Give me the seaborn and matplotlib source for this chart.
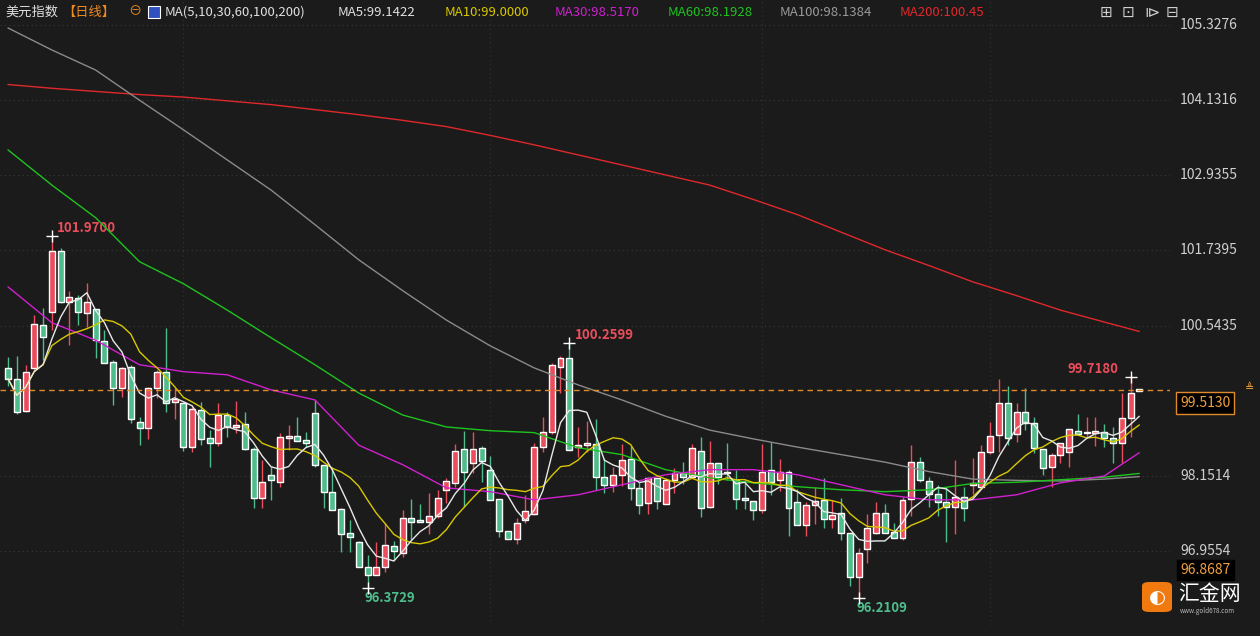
import numpy as np
import pandas as pd
import seaborn as sns
import matplotlib.pyplot as plt
from matplotlib.patches import FancyBboxPatch

# daily OHLC (red = up, green = down)
opens = [99.87, 99.70, 99.18, 99.87, 100.55, 100.76, 101.73, 100.92, 100.98, 100.75,
         100.80, 100.29, 99.97, 99.55, 99.89, 99.01, 98.92, 99.55, 99.81, 99.33,
         99.31, 98.61, 99.20, 98.76, 98.68, 99.12, 98.93, 98.98, 98.58, 97.80,
         98.17, 98.06, 98.76, 98.79, 98.72, 99.15, 98.32, 97.90, 97.63, 97.24,
         97.10, 96.70, 96.57, 96.70, 97.03, 96.93, 97.48, 97.45, 97.42, 97.51,
         97.93, 98.04, 98.58, 98.36, 98.60, 98.25, 97.79, 97.28, 97.15, 97.45,
         97.55, 98.61, 98.85, 99.89, 100.02, 98.61, 98.65, 98.66, 98.13, 98.00,
         98.17, 98.42, 97.96, 97.72, 98.12, 97.71, 98.09, 98.20, 98.14, 98.55,
         97.66, 98.36, 98.21, 98.09, 97.80, 97.75, 97.61, 98.25, 98.09, 98.22,
         97.74, 97.37, 97.69, 97.77, 97.47, 97.56, 97.24, 96.54, 96.99, 97.24,
         97.56, 97.26, 97.16, 97.79, 98.37, 98.07, 97.86, 97.74, 97.66, 97.82,
         98.01, 97.98, 98.53, 98.80, 99.31, 98.82, 99.17, 99.00, 98.58, 98.30,
         98.49, 98.53, 98.87, 98.83, 98.83, 98.85, 98.76, 98.68, 99.08, 99.52]
closes = [99.70, 99.17, 99.81, 100.57, 100.36, 101.73, 100.92, 101.00, 100.76, 100.92,
          100.32, 99.95, 99.55, 99.87, 99.06, 98.92, 99.55, 99.81, 99.31, 99.38,
          98.61, 99.22, 98.74, 98.68, 99.12, 98.93, 98.96, 98.58, 97.80, 98.06,
          98.08, 98.77, 98.79, 98.70, 98.68, 98.32, 97.90, 97.61, 97.22, 97.18,
          96.70, 96.57, 96.70, 97.05, 96.96, 97.48, 97.42, 97.42, 97.51, 97.80,
          98.07, 98.55, 98.22, 98.58, 98.39, 97.77, 97.28, 97.15, 97.40, 97.59,
          98.61, 98.85, 99.92, 100.02, 98.56, 98.64, 98.68, 98.13, 98.00, 98.17,
          98.41, 97.96, 97.69, 98.12, 97.75, 98.09, 98.20, 98.14, 98.60, 97.64,
          98.36, 98.14, 98.19, 97.79, 97.77, 97.61, 98.22, 98.06, 98.22, 97.64,
          97.37, 97.69, 97.75, 97.47, 97.53, 97.24, 96.54, 96.92, 97.32, 97.56,
          97.24, 97.16, 97.77, 98.37, 98.09, 97.86, 97.74, 97.66, 97.82, 97.64,
          98.04, 98.53, 98.79, 99.31, 98.76, 99.17, 99.00, 98.60, 98.28, 98.49,
          98.68, 98.90, 98.82, 98.85, 98.87, 98.76, 98.68, 99.08, 99.47, 99.51]
highs = [100.05, 100.06, 99.92, 100.71, 100.82, 101.97, 101.78, 101.10, 101.03, 101.22,
         100.80, 100.48, 100.00, 99.89, 99.92, 99.09, 99.57, 99.84, 100.51, 99.55,
         99.33, 99.25, 99.33, 98.88, 99.31, 99.17, 99.34, 99.17, 98.61, 98.40,
         98.30, 98.84, 98.96, 99.09, 98.85, 99.36, 98.33, 98.30, 97.64, 97.45,
         97.12, 96.89, 97.10, 97.40, 97.11, 97.61, 97.79, 97.71, 97.88, 97.93,
         98.11, 98.66, 98.87, 98.85, 98.63, 98.47, 97.79, 97.28, 97.48, 97.85,
         98.68, 99.09, 99.94, 100.06, 100.2599, 98.93, 99.02, 99.06, 98.44, 98.30,
         98.66, 98.63, 98.06, 98.14, 98.12, 98.12, 98.27, 98.37, 98.66, 98.77,
         98.71, 98.36, 98.68, 98.24, 98.09, 97.75, 98.66, 98.69, 98.42, 98.25,
         97.95, 97.74, 97.97, 98.12, 97.77, 97.80, 97.24, 97.00, 97.55, 97.73,
         97.71, 97.40, 97.82, 98.64, 98.45, 98.14, 98.01, 97.98, 98.41, 97.98,
         98.44, 98.64, 99.01, 99.69, 99.58, 99.31, 99.55, 99.09, 98.58, 98.52,
         98.68, 98.90, 99.14, 99.09, 99.09, 98.98, 98.93, 99.47, 99.718, 99.53]
lows = [99.58, 99.14, 99.17, 99.84, 100.00, 100.48, 100.90, 100.24, 100.55, 100.52,
        100.03, 99.95, 99.28, 99.41, 98.99, 98.64, 98.74, 99.39, 99.17, 99.06,
        98.55, 98.53, 98.64, 98.30, 98.63, 98.77, 98.84, 98.56, 97.64, 97.64,
        97.77, 97.98, 98.56, 98.70, 98.61, 98.30, 97.64, 97.61, 96.94, 96.94,
        96.70, 96.3729, 96.57, 96.62, 96.82, 96.86, 97.13, 97.42, 97.23, 97.48,
        97.72, 97.98, 97.66, 98.20, 98.06, 97.77, 97.18, 97.15, 97.07, 97.40,
        97.53, 98.53, 98.82, 99.47, 98.56, 98.45, 98.53, 97.93, 97.88, 97.90,
        97.99, 97.77, 97.55, 97.55, 97.63, 97.71, 97.88, 98.02, 98.14, 97.50,
        97.64, 98.02, 98.09, 97.63, 97.63, 97.45, 97.56, 97.85, 97.91, 97.20,
        97.37, 97.20, 97.39, 97.32, 97.32, 97.13, 96.40, 96.2109, 96.76, 97.22,
        97.24, 97.16, 97.13, 97.52, 98.06, 97.66, 97.52, 97.10, 97.23, 97.43,
        97.87, 97.95, 98.50, 98.53, 98.64, 98.69, 98.88, 98.52, 98.17, 97.98,
        98.36, 98.30, 98.80, 98.77, 98.63, 98.61, 98.36, 98.36, 98.77, 99.50]

# long moving averages read at anchor candles
ma_idx = [0, 5, 10, 15, 20, 25, 30, 35, 40, 45, 50, 55, 60, 65, 70, 75, 80, 85, 90,
          95, 100, 105, 110, 115, 120, 125, 129]
ma30 = [101.16, 100.59, 100.31, 99.92, 99.81, 99.76, 99.52, 99.36, 98.64, 98.33, 97.96, 97.90,
        97.77, 97.85, 98.01, 98.17, 98.25, 98.25, 98.17, 98.01, 97.85, 97.77, 97.77, 97.85,
        98.04, 98.15, 98.52]
ma60 = [103.34, 102.78, 102.26, 101.56, 101.21, 100.79, 100.35, 99.92, 99.47, 99.12, 98.93, 98.87,
        98.84, 98.60, 98.49, 98.25, 98.12, 98.04, 97.98, 97.93, 97.90, 97.93, 98.03, 98.05,
        98.09, 98.13, 98.19]
ma100 = [105.28, 104.93, 104.61, 104.13, 103.66, 103.18, 102.70, 102.15, 101.59, 101.10, 100.63, 100.22,
         99.87, 99.60, 99.36, 99.10, 98.88, 98.74, 98.61, 98.49, 98.37, 98.22, 98.10, 98.08,
         98.07, 98.10, 98.14]
ma200 = [104.38, 104.32, 104.27, 104.22, 104.18, 104.12, 104.06, 103.98, 103.90, 103.81, 103.71, 103.57,
         103.42, 103.26, 103.10, 102.94, 102.78, 102.55, 102.31, 102.03, 101.75, 101.50, 101.24, 101.02,
         100.79, 100.60, 100.45]

axis_ticks = [105.3276, 104.1316, 102.9355, 101.7395, 100.5435, 98.1514, 96.9554]
last_price = 99.5130
low_marker = 96.8687

BG = '#1b1b1b'
RED = '#eb4d5c'
GREEN = '#4fbc8c'

sns.set_style('dark', {'axes.facecolor': BG, 'figure.facecolor': BG})
plt.rcParams['font.family'] = ['Noto Sans CJK SC', 'DejaVu Sans']

df = pd.DataFrame({'o': opens, 'h': highs, 'l': lows, 'c': closes})
df['i'] = np.arange(len(df))
df['ma5'] = df['c'].rolling(5, min_periods=1).mean()
df['ma10'] = df['c'].rolling(10, min_periods=1).mean()
ma = pd.DataFrame({'i': ma_idx, 'ma30': ma30, 'ma60': ma60, 'ma100': ma100, 'ma200': ma200})

fig = plt.figure(figsize=(12.6, 6.36), dpi=100)
ax = fig.add_axes([0, 11 / 636, 1170 / 1260, 625 / 636])
ax.set_facecolor(BG)
ax.set_xlim(-0.91, 132.5)
ax.set_ylim(95.778, 105.725)

for t in axis_ticks:
    ax.axhline(t, color='#3a3a3a', lw=0.8, ls=(0, (1, 3)), zorder=0)
for v in [20, 55, 86, 112]:
    ax.axvline(v, color='#333333', lw=0.8, ls=(0, (1, 3)), zorder=0)

up = df['c'] >= df['o']
colors = np.where(up, RED, GREEN)
ax.vlines(df['i'], df['l'], df['h'], colors=colors, lw=1, zorder=2)
bottoms = np.minimum(df['o'], df['c'])
heights = np.maximum((df['c'] - df['o']).abs(), 0.02)
ax.bar(df['i'], heights, bottom=bottoms, width=0.68, color=colors, zorder=3)

sns.lineplot(data=ma, x='i', y='ma200', ax=ax, color='#e0282c', lw=1, zorder=4)
sns.lineplot(data=ma, x='i', y='ma100', ax=ax, color='#8a8a8a', lw=1, zorder=4)
sns.lineplot(data=ma, x='i', y='ma60', ax=ax, color='#1fc31f', lw=1, zorder=4)
sns.lineplot(data=ma, x='i', y='ma30', ax=ax, color='#d020d0', lw=1, zorder=4)
sns.lineplot(data=df, x='i', y='ma10', ax=ax, color='#d8c800', lw=1, zorder=5)
sns.lineplot(data=df, x='i', y='ma5', ax=ax, color='#e8e8e8', lw=1, zorder=5)

ax.axhline(last_price, color='#e08a2a', lw=1, ls=(0, (4, 3)), zorder=6)

# extreme markers
for k, val, col, dx, dy, va in [(5, highs[5], RED, 0.6, 0.02, 'bottom'),
                                 (64, highs[64], RED, 0.6, 0.02, 'bottom'),
                                 (128, highs[128], RED, -7.2, 0.02, 'bottom'),
                                 (41, lows[41], GREEN, -0.4, -0.05, 'top'),
                                 (97, lows[97], GREEN, -0.2, -0.05, 'top')]:
    ax.plot(k, val, marker='+', color='white', ms=8, mew=1, zorder=7)
    ax.text(k + dx, val + dy, f'{val:.4f}', color=col, fontsize=9.5, fontweight='bold', va=va)

ax.set_xlabel('')
ax.set_ylabel('')
ax.set_xticks([])
ax.set_yticks([])
for s in ax.spines.values():
    s.set_visible(False)

# right price scale
def ypix(p):
    return 11 / 636 + (p - 95.778) / (105.725 - 95.778) * 625 / 636

for t in axis_ticks:
    fig.text(1180 / 1260, ypix(t), f'{t:.4f}', color='#d0d0d0', fontsize=10, va='center')
fig.text(1180 / 1260, ypix(last_price) - 13 / 636, f'{last_price:.4f}', color='#f0a040', fontsize=10,
         va='center', bbox=dict(boxstyle='square,pad=0.3', fc='black', ec='#e08a2a', lw=1))
fig.text(1180 / 1260, 1 - 570 / 636, f'{low_marker:.4f}', color='#f0a040', fontsize=10, va='center',
         bbox=dict(boxstyle='square,pad=0.25', fc='black', ec='black'))
fig.text(1250 / 1260, ypix(last_price) + 2 / 636, '≜', color='#f0a040', fontsize=8, ha='center',
         va='center', family=['DejaVu Sans'])

# header
header = [(5, '美元指数', '#e0e0e0'), (62, '【日线】', '#f08a20'), (128, '⊖', '#f08a20'),
          (165, 'MA(5,10,30,60,100,200)', '#e0e0e0'), (338, 'MA5:99.1422', '#e0e0e0'),
          (445, 'MA10:99.0000', '#d8c800'), (555, 'MA30:98.5170', '#d020d0'),
          (668, 'MA60:98.1928', '#1fc31f'), (780, 'MA100:98.1384', '#9a9a9a'),
          (900, 'MA200:100.45', '#e0282c')]
for x, s, c in header:
    fig.text(x / 1260, 1 - 12 / 636, s, color=c, fontsize=9.5, va='center')
fig.patches.append(FancyBboxPatch((148 / 1260, 1 - 18 / 636), 12 / 1260, 12 / 636, boxstyle='square,pad=0',
                                  transform=fig.transFigure, fc='#3050c0', ec='white', lw=0.8))
for k, s in enumerate(['⊞', '⊡', '⧐', '⊟']):
    fig.text((1100 + 22 * k) / 1260, 1 - 12 / 636, s, color='#d0d0d0', fontsize=11, va='center',
             family=['DejaVu Sans'])

# logo
fig.patches.append(FancyBboxPatch((1142 / 1260, 1 - 612 / 636), 30 / 1260, 30 / 636,
                                  boxstyle='round,pad=0,rounding_size=0.006', transform=fig.transFigure,
                                  fc='#f07a10', ec='none'))
fig.text(1157 / 1260, 1 - 597 / 636, '◐', color='white', fontsize=14, ha='center', va='center',
         family=['DejaVu Sans'])
fig.text(1178 / 1260, 1 - 594 / 636, '汇金网', color='white', fontsize=15, va='center')
fig.text(1180 / 1260, 1 - 611 / 636, 'www.gold678.com', color='#bbbbbb', fontsize=4.5, va='center')

fig.savefig('out.png', dpi=100, facecolor=BG)
